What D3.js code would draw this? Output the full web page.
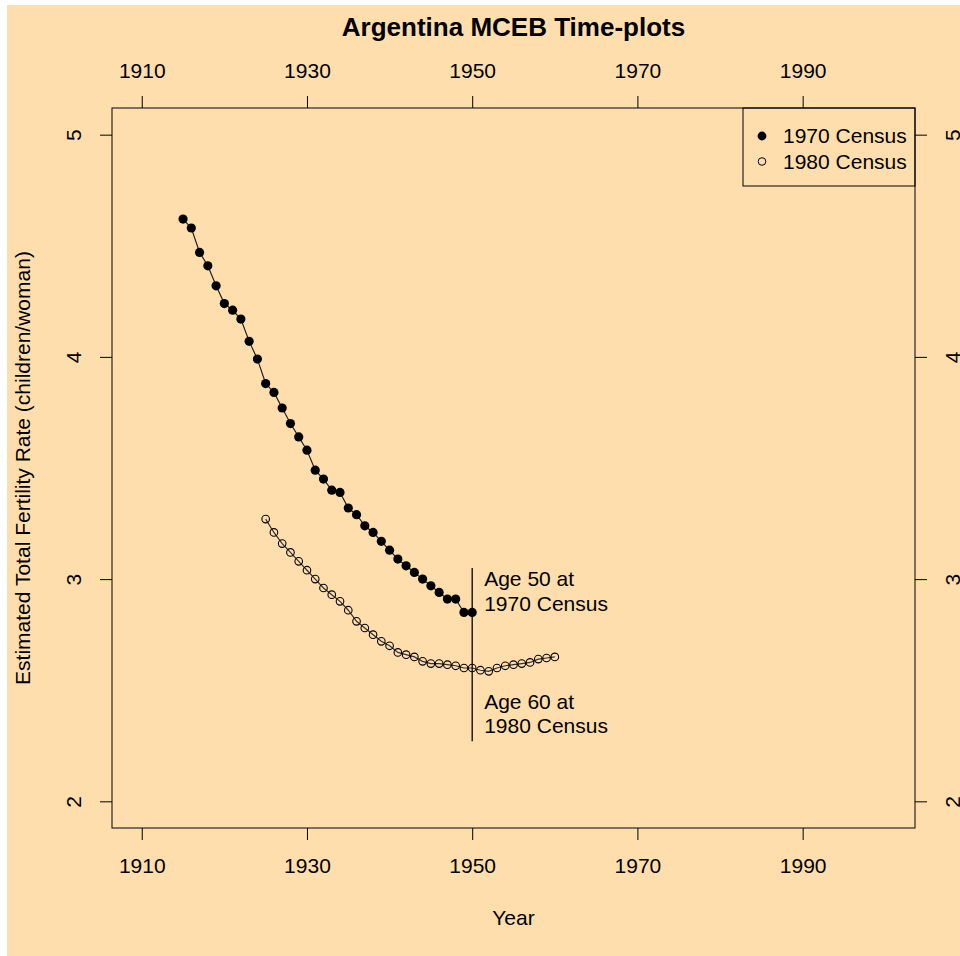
<!DOCTYPE html>
<html>
<head>
<meta charset="utf-8">
<script src="https://cdn.jsdelivr.net/npm/d3@7"></script>
<style>
  html, body { margin: 0; padding: 0; background: #fff; }
  svg { display: block; }
  text { font-family: "Liberation Sans", Arial, sans-serif; fill: #000; }
</style>
</head>
<body>
<svg id="chart" width="960" height="956"></svg>
<script>
// 1970 census: yearly estimates 1915-1950
years1970 = d3.range(1915, 1951)
tfr1970 = [4.62, 4.58, 4.47, 4.41, 4.32, 4.24, 4.21, 4.17, 4.07, 3.99,
           3.88, 3.84, 3.77, 3.70, 3.64, 3.58, 3.49, 3.45, 3.40, 3.39,
           3.32, 3.29, 3.24, 3.21, 3.17, 3.13, 3.09, 3.06, 3.03, 3.00,
           2.97, 2.94, 2.91, 2.91, 2.85, 2.85]

// 1980 census: yearly estimates 1925-1960
years1980 = d3.range(1925, 1961)
tfr1980 = [3.27, 3.21, 3.16, 3.12, 3.08, 3.04, 3.00, 2.96, 2.93, 2.90,
           2.86, 2.81, 2.78, 2.75, 2.72, 2.70, 2.67, 2.66, 2.65, 2.63,
           2.62, 2.62, 2.615, 2.61, 2.60, 2.60, 2.59, 2.585, 2.60, 2.61,
           2.615, 2.62, 2.625, 2.64, 2.645, 2.65]

xTicks = [1910, 1930, 1950, 1970, 1990]
yTicks = [2, 3, 4, 5]
legendLabels = ["1970 Census", "1980 Census"]
noteTop = ["Age 50 at", "1970 Census"]
noteBottom = ["Age 60 at", "1980 Census"]

const W = 960, H = 956;
const fs = 21;

const svg = d3.select("#chart");

svg.append("rect")
    .attr("x", 7).attr("y", 5)
    .attr("width", W - 7).attr("height", H - 5)
    .attr("fill", "#FFDEAD");

// R style limits: data range widened by 4% each side
const x = d3.scaleLinear().domain([1906.4, 2003.6]).range([112, 915]);
const y = d3.scaleLinear().domain([1.88, 5.12]).range([828, 108]);

const plotLeft = x.range()[0], plotRight = x.range()[1];
const plotTop = y.range()[1], plotBottom = y.range()[0];

function styleAxis(g) {
  g.select(".domain").remove();
  g.selectAll(".tick line").attr("stroke", "#000").attr("stroke-width", 1);
  g.selectAll(".tick text").attr("font-size", fs).attr("font-family", null).attr("fill", "#000");
}

svg.append("g")
    .attr("transform", "translate(0," + plotBottom + ")")
    .call(d3.axisBottom(x).tickValues(xTicks).tickFormat(d3.format("d")).tickSize(12).tickPadding(18))
    .call(styleAxis);

svg.append("g")
    .attr("transform", "translate(0," + plotTop + ")")
    .call(d3.axisTop(x).tickValues(xTicks).tickFormat(d3.format("d")).tickSize(12).tickPadding(18))
    .call(styleAxis);

// y tick labels run parallel to the axis
svg.append("g")
    .attr("transform", "translate(" + plotLeft + ",0)")
    .call(d3.axisLeft(y).tickValues(yTicks).tickFormat(d3.format("d")).tickSize(12))
    .call(styleAxis)
  .selectAll(".tick text")
    .attr("transform", "rotate(-90)")
    .attr("x", 0).attr("y", -38).attr("dy", "0.35em")
    .attr("text-anchor", "middle");

svg.append("g")
    .attr("transform", "translate(" + plotRight + ",0)")
    .call(d3.axisRight(y).tickValues(yTicks).tickFormat(d3.format("d")).tickSize(12))
    .call(styleAxis)
  .selectAll(".tick text")
    .attr("transform", "rotate(-90)")
    .attr("x", 0).attr("y", 38).attr("dy", "0.35em")
    .attr("text-anchor", "middle");

// plot box
svg.append("rect")
    .attr("x", plotLeft).attr("y", plotTop)
    .attr("width", plotRight - plotLeft).attr("height", plotBottom - plotTop)
    .attr("fill", "none").attr("stroke", "#000").attr("stroke-width", 1);

const line = d3.line()
    .x(function (d) { return x(d[0]) })
    .y(function (d) { return y(d[1]) });

const pts1970 = d3.zip(years1970, tfr1970);
const pts1980 = d3.zip(years1980, tfr1980);

svg.append("path")
    .datum(pts1970)
    .attr("d", line)
    .attr("fill", "none").attr("stroke", "#222").attr("stroke-width", 1.2);

svg.append("g")
  .selectAll("circle")
  .data(pts1970)
  .join("circle")
    .attr("cx", function (d) { return x(d[0]) })
    .attr("cy", function (d) { return y(d[1]) })
    .attr("r", 4.6)
    .attr("fill", "#000");

svg.append("path")
    .datum(pts1980)
    .attr("d", line)
    .attr("fill", "none").attr("stroke", "#333").attr("stroke-width", 1.2);

svg.append("g")
  .selectAll("circle")
  .data(pts1980)
  .join("circle")
    .attr("cx", function (d) { return x(d[0]) })
    .attr("cy", function (d) { return y(d[1]) })
    .attr("r", 3.8)
    .attr("fill", "none")
    .attr("stroke", "#000").attr("stroke-width", 1.1);

// marker at 1950
svg.append("line")
    .attr("x1", x(1950)).attr("x2", x(1950))
    .attr("y1", y(3.05)).attr("y2", y(2.27))
    .attr("stroke", "#000").attr("stroke-width", 1.3);

function note(lines, yval) {
  svg.append("g")
    .selectAll("text")
    .data(lines)
    .join("text")
      .attr("x", x(1950) + 12)
      .attr("y", function (d, i) { return y(yval) + (i - 0.5) * 24.5 })
      .attr("dy", "0.35em")
      .attr("font-size", fs)
      .text(function (d) { return d });
}
note(noteTop, 2.945);
note(noteBottom, 2.395);

// legend
const legend = svg.append("g");
legend.append("rect")
    .attr("x", 743).attr("y", plotTop)
    .attr("width", plotRight - 743).attr("height", 78)
    .attr("fill", "none").attr("stroke", "#000").attr("stroke-width", 1);

legend.selectAll("circle")
  .data(legendLabels)
  .join("circle")
    .attr("cx", 762)
    .attr("cy", function (d, i) { return plotTop + 28 + i * 25.5 })
    .attr("r", function (d, i) { return i == 0 ? 4.4 : 3.8 })
    .attr("fill", function (d, i) { return i == 0 ? "#000" : "none" })
    .attr("stroke", "#000").attr("stroke-width", function (d, i) { return i == 0 ? 0 : 1 });

legend.selectAll("text")
  .data(legendLabels)
  .join("text")
    .attr("x", 783)
    .attr("y", function (d, i) { return plotTop + 28 + i * 25.5 })
    .attr("dy", "0.35em")
    .attr("font-size", fs)
    .text(function (d) { return d });

// titles
svg.append("text")
    .attr("x", (plotLeft + plotRight) / 2).attr("y", 36)
    .attr("text-anchor", "middle")
    .attr("font-size", 26).attr("font-weight", "bold")
    .text("Argentina MCEB Time-plots");

svg.append("text")
    .attr("x", (plotLeft + plotRight) / 2).attr("y", 918)
    .attr("dy", "0.35em")
    .attr("text-anchor", "middle")
    .attr("font-size", fs)
    .text("Year");

svg.append("text")
    .attr("transform", "translate(23," + (plotTop + plotBottom) / 2 + ") rotate(-90)")
    .attr("dy", "0.35em")
    .attr("text-anchor", "middle")
    .attr("font-size", fs)
    .text("Estimated Total Fertility Rate (children/woman)");
</script>
</body>
</html>
